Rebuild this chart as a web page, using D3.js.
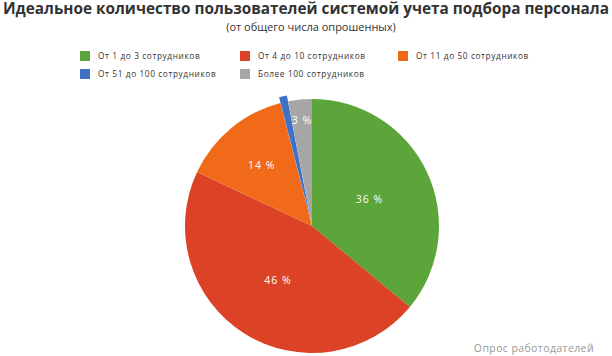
<!DOCTYPE html>
<html><head><meta charset="utf-8">
<script src="https://cdn.jsdelivr.net/npm/d3@7"></script>
<style>body{margin:0;background:#fff}svg{display:block}</style>
</head><body>
<script>
const categories = ["От 1 до 3 сотрудников","От 4 до 10 сотрудников","От 11 до 50 сотрудников","От 51 до 100 сотрудников","Более 100 сотрудников"];
const values = [36, 46, 14, 1, 3];
const labels = ["36 %","46 %","14 %","","3 %"];
const colors = ["#5ba53a","#dc4226","#f16a1a","#3f72c6","#a6a6a6"];
const exploded = [false,false,false,true,false];
const titleText = "Идеальное количество пользователей системой учета подбора персонала";
const subtitleText = "(от общего числа опрошенных)";
const footerText = "Опрос работодателей";

const W=612,H=356;
const svg=d3.select("body").append("svg").attr("width",W).attr("height",H);

svg.append("text").attr("x",306).attr("y",14).attr("text-anchor","middle")
  .attr("font-family","Open Sans").attr("font-weight","bold").attr("font-size",16)
  .attr("fill","#333").attr("textLength",606).attr("lengthAdjust","spacingAndGlyphs").text(titleText);
svg.append("text").attr("x",311).attr("y",31).attr("text-anchor","middle")
  .attr("font-family","Open Sans").attr("font-size",11).attr("fill","#333").text(subtitleText);

// legend
const legX=[80,240,398], legY=[56,74];
const leg=svg.append("g");
categories.forEach((c,i)=>{
  const x=legX[i%3], y=legY[Math.floor(i/3)];
  leg.append("rect").attr("x",x).attr("y",y-5).attr("width",10).attr("height",10).attr("fill",colors[i]);
  leg.append("text").attr("x",x+18).attr("y",y+3).attr("font-family","Open Sans").attr("font-size",8.3)
    .attr("letter-spacing",0.6).attr("fill","#333").text(c);
});

// pie
const cx=312, cy=226, r=127;
const pie=d3.pie().sort(null).value(d=>d)(values);
const arc=d3.arc().innerRadius(0).outerRadius(r);
const g=svg.append("g").attr("transform",`translate(${cx},${cy})`);
pie.forEach((p,i)=>{
  const mid=(p.startAngle+p.endAngle)/2;
  const off=exploded[i]?6:0;
  g.append("path").attr("d",arc(p)).attr("fill",colors[i])
   .attr("transform",`translate(${off*Math.sin(mid)},${-off*Math.cos(mid)})`);
});
const total=d3.sum(values);
pie.forEach((p,i)=>{
  if(!labels[i]) return;
  const mid=(p.startAngle+p.endAngle)/2;
  const f=values[i]/total;
  const lr=r*(0.5+0.4*Math.max(0,(0.2-f)/0.2));
  g.append("text").attr("x",lr*Math.sin(mid)).attr("y",-lr*Math.cos(mid)+4)
   .attr("text-anchor","middle").attr("font-family","Open Sans").attr("font-size",10.5)
   .attr("letter-spacing",1).attr("fill","#fff").text(labels[i]);
});

svg.append("text").attr("x",594).attr("y",352).attr("text-anchor","end")
  .attr("font-family","Open Sans").attr("font-size",10.5).attr("letter-spacing",0.4)
  .attr("fill","#999").text(footerText);
</script>
</body></html>
